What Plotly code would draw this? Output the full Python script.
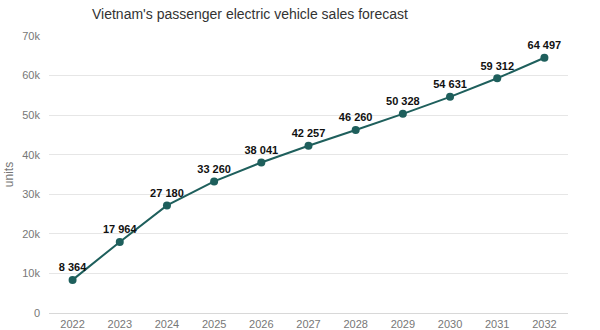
import plotly.graph_objects as go

years = ["2022", "2023", "2024", "2025", "2026", "2027", "2028", "2029", "2030", "2031", "2032"]
sales = [8364, 17964, 27180, 33260, 38041, 42257, 46260, 50328, 54631, 59312, 64497]
y_ticks = [0, 10000, 20000, 30000, 40000, 50000, 60000, 70000]
y_tick_labels = ["0", "10k", "20k", "30k", "40k", "50k", "60k", "70k"]

labels = [f"{v:,}".replace(",", " ") for v in sales]

fig = go.Figure(
    go.Scatter(
        x=years,
        y=sales,
        mode="lines+markers+text",
        line=dict(color="#1e5f5c", width=2),
        marker=dict(color="#1e5f5c", size=8),
        text=labels,
        textposition="top center",
        textfont=dict(family="Liberation Sans, Arial", size=11, color="#111111", weight="bold"),
        cliponaxis=False,
        hoverinfo="x+y",
    )
)

fig.update_layout(
    width=600,
    height=330,
    margin=dict(l=49, r=32, t=36, b=17),
    paper_bgcolor="white",
    plot_bgcolor="white",
    showlegend=False,
    font=dict(family="Liberation Sans, Arial", color="#777777", size=11),
    title=dict(
        text="Vietnam's passenger electric vehicle sales forecast",
        x=250 / 600,
        xanchor="center",
        y=1 - 14 / 330,
        yanchor="middle",
        font=dict(size=14, color="#333333"),
    ),
    xaxis=dict(
        type="category",
        range=[-0.5, len(years) - 0.5],
        showgrid=False,
        showline=False,
        ticks="",
        automargin=False,
        ticklabelstandoff=3,
        tickfont=dict(size=11, color="#777777"),
    ),
    yaxis=dict(
        range=[0, 70000],
        tickvals=y_ticks,
        ticktext=y_tick_labels,
        showgrid=True,
        gridcolor="#e6e6e6",
        gridwidth=1,
        zeroline=True,
        zerolinecolor="#d8d8d8",
        zerolinewidth=1,
        ticks="",
        automargin=False,
        ticklabelstandoff=8,
        tickfont=dict(size=11, color="#777777"),
        title=dict(text="units", font=dict(size=12, color="#777777"), standoff=6),
    ),
)

fig.write_html("out.html")
